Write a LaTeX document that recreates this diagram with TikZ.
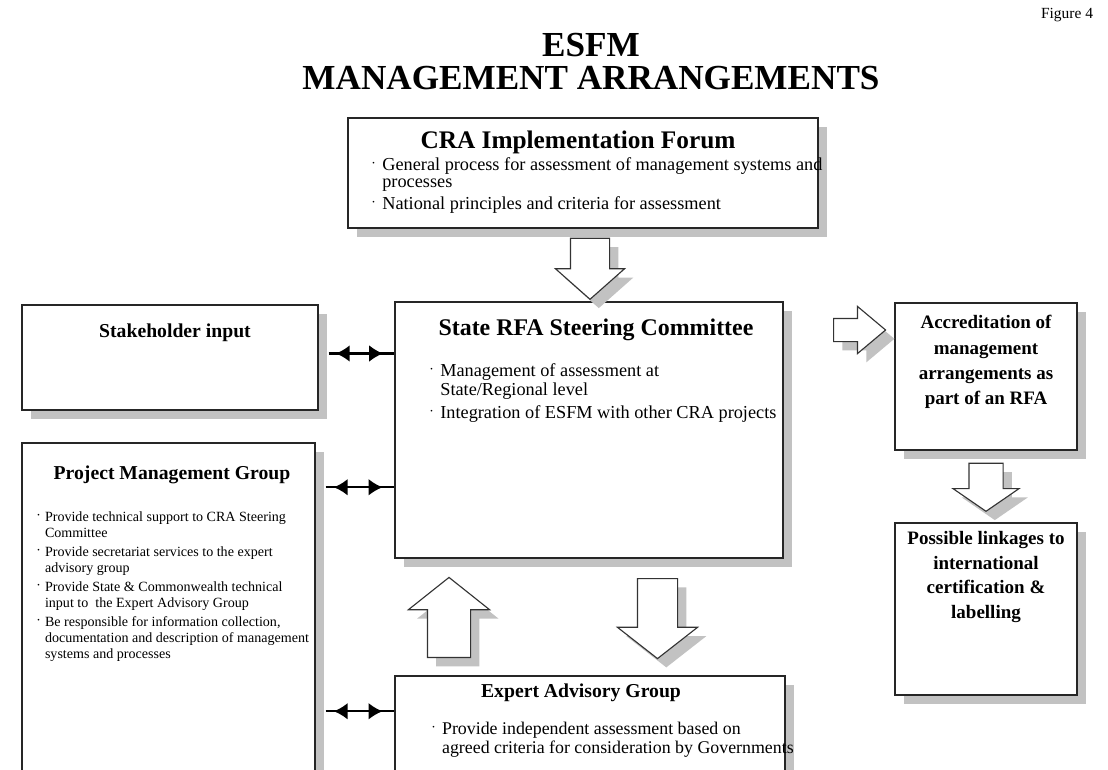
\documentclass[tikz,border=0pt]{standalone}
\usepackage{fontspec}
\setmainfont{Liberation Serif}
\usetikzlibrary{positioning,arrows.meta,calc,shapes.arrows,shadows,decorations.markings}
\newcommand{\bul}{\makebox[0.55em][l]{\raisebox{0.6ex}{\tiny\textbullet}}}
\newcommand{\ind}{\hspace*{0.55em}}
\tikzset{
  >={Latex[length=3.5mm,width=4.2mm]},
  shad/.style={drop shadow={shadow xshift=0.22cm,shadow yshift=-0.22cm,
    fill=black!24,opacity=1}},
  box/.style={draw=black!85,line width=1pt,fill=white,shad,inner sep=0pt},
  boxtitle/.style={font=\bfseries\fontsize{14}{16}\selectfont,inner sep=0pt,
    align=center},
  bultext/.style={align=left,inner sep=0pt,anchor=north west},
  sidetext/.style={font=\bfseries\fontsize{13.5}{18}\selectfont,inner sep=0pt,
    align=center},
  barrow/.style={single arrow,draw=black!80,line width=0.8pt,fill=white,shad,
    inner sep=0pt,minimum width=0pt,anchor=tail},
  twoway/.style={line width=1.6pt,postaction={decorate},
    decoration={markings,
      mark=at position 0.32 with {\arrow{<}},
      mark=at position 0.83 with {\arrow{>}}}},
}
\begin{document}
\begin{tikzpicture}[x=0.025cm,y=-0.025cm]
  \useasboundingbox (0,0) rectangle (1108,769);
  \clip (0,0) rectangle (1108,769);

  % heading
  \node[font=\bfseries\fontsize{25}{23.5}\selectfont,align=center] (ttl)
    at (591,62) {ESFM\\MANAGEMENT ARRANGEMENTS};
  \node[font=\fontsize{11}{13}\selectfont] (fig) at (1067,15) {Figure 4};

  % boxes
  \node[box,minimum width=11.75cm,minimum height=2.75cm] (cra) at (583,173) {};
  \node[box,minimum width=9.7cm,minimum height=6.4cm] (src) at (589,430) {};
  \node[box,minimum width=7.4cm,minimum height=2.625cm] (stake) at (170,357.5) {};
  \node[box,minimum width=7.325cm,minimum height=8.925cm] (pmg) at (168.5,621.5) {};
  \node[box,minimum width=9.75cm,minimum height=3.1cm] (ead) at (590,738) {};
  \node[box,minimum width=4.55cm,minimum height=3.675cm] (accr) at (986,376.5) {};
  \node[box,minimum width=4.55cm,minimum height=4.3cm] (link) at (986,609) {};

  % block arrows
  \node[barrow,rotate=-90,minimum height=1.525cm,inner ysep=0.475cm,
    single arrow head extend=0.375cm,single arrow tip angle=97] (fa1)
    at ($(cra.south)+(7,9)$) {};
  \node[barrow,rotate=90,minimum height=2cm,inner ysep=0.525cm,
    single arrow head extend=0.475cm,single arrow tip angle=103] (fa2)
    at (449,658) {};
  \node[barrow,rotate=-90,minimum height=2cm,inner ysep=0.4875cm,
    single arrow head extend=0.5cm,single arrow tip angle=104] (fa3)
    at (657.5,578) {};
  \node[barrow,minimum height=1.3cm,inner ysep=0.275cm,
    single arrow head extend=0.3cm,single arrow tip angle=80] (fa4)
    at (833,330) {};
  \node[barrow,rotate=-90,minimum height=1.2cm,inner ysep=0.4125cm,
    single arrow head extend=0.4cm,single arrow tip angle=111] (fa5)
    at ($(accr.south)+(0,12)$) {};

  % two-way links
  \coordinate (s1) at ($(stake.east)+(10,-4)$);
  \coordinate (p1) at ($(pmg.north east)+(10,45)$);
  \coordinate (p2) at ($(pmg.north east)+(10,269)$);
  \draw[twoway] (s1) -- (s1 -| src.west);
  \draw[twoway] (p1) -- (p1 -| src.west);
  \draw[twoway] (p2) -- (p2 -| ead.west);

  % texts
  \node[boxtitle,font=\bfseries\fontsize{18}{20}\selectfont] (craT) at (578,142)
    {CRA Implementation Forum};
  \node[bultext,font=\fontsize{13}{12.2}\selectfont] (craB) at (372,157)
    {\bul General process for assessment of management systems and\\
     \ind processes\\[3.5pt]
     \bul National principles and criteria for assessment};

  \node[boxtitle,font=\bfseries\fontsize{17}{19}\selectfont] (srcT) at (596,330)
    {State RFA Steering Committee};
  \node[bultext,font=\fontsize{13}{14}\selectfont] (srcB) at (430,363)
    {\bul Management of assessment at\\
     \ind State/Regional level\\[2pt]
     \bul Integration of ESFM with other CRA projects};

  \node[boxtitle] (stakeT) at (175,333) {Stakeholder input};

  \node[boxtitle] (pmgT) at (172,475) {Project Management Group};
  \node[bultext,font=\fontsize{10}{11.5}\selectfont] (pmgB) at (37,511)
    {\bul Provide technical support to CRA Steering\\
     \ind Committee\\[2pt]
     \bul Provide secretariat services to the expert\\
     \ind advisory group\\[2pt]
     \bul Provide State \& Commonwealth technical\\
     \ind input to\ \ the Expert Advisory Group\\[2pt]
     \bul Be responsible for information collection,\\
     \ind documentation and description of management\\
     \ind systems and processes};

  \node[boxtitle] (eadT) at (581,693) {Expert Advisory Group};
  \node[bultext,font=\fontsize{12.7}{13.5}\selectfont] (eadB) at (432,722)
    {\bul Provide independent assessment based on\\
     \ind agreed criteria for consideration by Governments};

  \node[sidetext] (accrT) at (986,362)
    {Accreditation of\\management\\arrangements as\\part of an RFA};
  \node[sidetext,font=\bfseries\fontsize{13.5}{17.4}\selectfont] (linkT) at (986,577)
    {Possible linkages to\\international\\certification \&\\labelling};
\end{tikzpicture}
\end{document}
